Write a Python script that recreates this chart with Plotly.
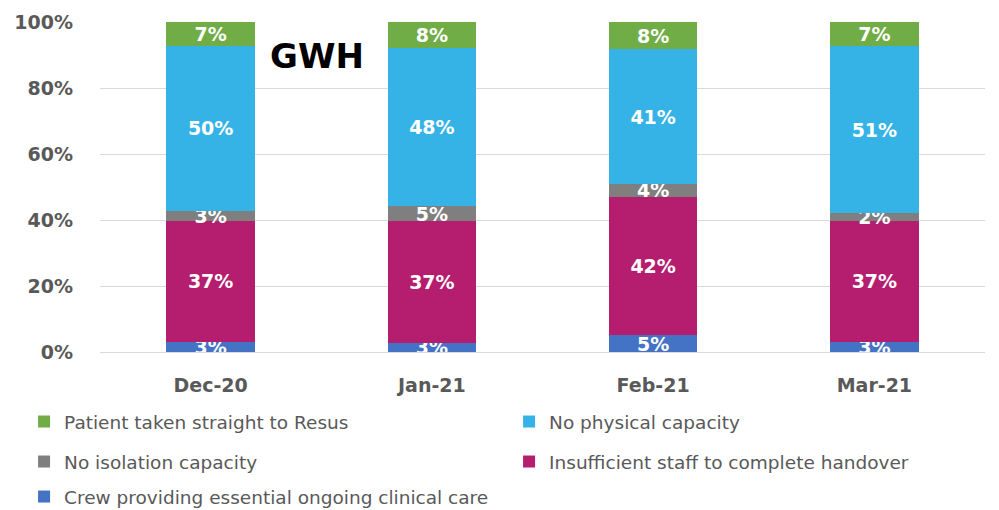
import plotly.graph_objects as go

months = ["Dec-20", "Jan-21", "Feb-21", "Mar-21"]

crew = [3.1, 2.8, 5.1, 3.0]
insufficient = [36.7, 36.8, 42.0, 36.8]
isolation = [3.0, 4.6, 3.7, 2.2]
physical = [50.0, 47.9, 40.9, 50.8]
resus = [7.2, 7.9, 8.3, 7.2]

y_ticks = [0, 20, 40, 60, 80, 100]
y_tick_labels = ["0%", "20%", "40%", "60%", "80%", "100%"]

series = [
    ("Crew providing essential ongoing clinical care", crew, "#4472C4", "legend3"),
    ("Insufficient staff to complete handover", insufficient, "#B51D6F", "legend2"),
    ("No isolation capacity", isolation, "#7F7F7F", "legend2"),
    ("No physical capacity", physical, "#36B3E6", "legend"),
    ("Patient taken straight to Resus", resus, "#70AD47", "legend"),
]

fig = go.Figure()
for name, vals, color, lg in series:
    fig.add_trace(go.Bar(
        x=months, y=vals, name=name, legend=lg,
        marker=dict(color=color, line=dict(width=0)),
        text=[f"{round(v)}%" for v in vals],
        textposition="inside", insidetextanchor="middle",
        textangle=0, constraintext="none",
        textfont=dict(family="DejaVu Sans", size=19, color="white", weight="bold"),
        hoverinfo="skip",
    ))

legend_common = dict(
    orientation="h", entrywidth=440, entrywidthmode="pixels",
    font=dict(family="DejaVu Sans", size=18.5, color="#595959"),
    bgcolor="rgba(0,0,0,0)", xanchor="left", yanchor="middle",
    itemclick=False, itemdoubleclick=False,
)

fig.update_layout(
    width=999, height=510,
    margin=dict(l=100, r=14, t=22, b=158, autoexpand=False),
    paper_bgcolor="white", plot_bgcolor="white",
    barmode="stack", bargap=0.6,
    showlegend=True,
    legend=dict(x=-0.0858, y=-0.2121, traceorder="reversed", **legend_common),
    legend2=dict(x=-0.0858, y=-0.3333, traceorder="reversed", **legend_common),
    legend3=dict(x=-0.0858, y=-0.4394, **legend_common),
    xaxis=dict(
        showgrid=False, showline=False, ticks="",
        tickfont=dict(family="DejaVu Sans", size=19, color="#595959", weight="bold"),
        ticklabelstandoff=20,
    ),
    yaxis=dict(
        range=[0, 100], tickvals=y_ticks, ticktext=y_tick_labels,
        showgrid=True, gridcolor="#D9D9D9", gridwidth=1,
        zeroline=True, zerolinecolor="#D9D9D9", zerolinewidth=1,
        showline=False, ticks="",
        tickfont=dict(family="DejaVu Sans", size=19, color="#595959", weight="bold"),
        ticklabelstandoff=26,
    ),
    annotations=[dict(
        text="GWH", x=0.245, y=0.897, xref="paper", yref="paper",
        xanchor="center", yanchor="middle", showarrow=False,
        font=dict(family="DejaVu Sans", size=34, color="black", weight="bold"),
    )],
)

fig.write_html("out.html", config={"displayModeBar": False},
               post_script="document.body.style.margin='0';")
